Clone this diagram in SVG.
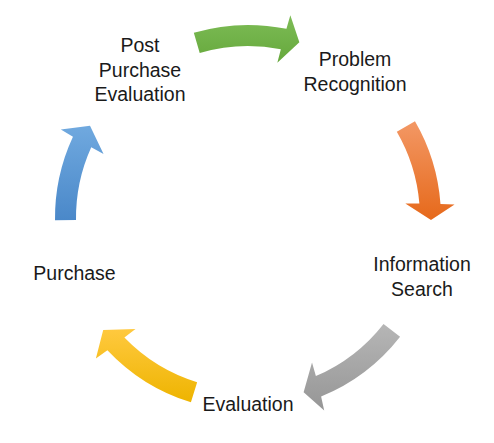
<svg xmlns="http://www.w3.org/2000/svg" width="494" height="443" viewBox="0 0 494 443">
<style>
  .lbl { font-family: "Liberation Sans", Arial, sans-serif; font-size: 19.5px; fill: #1a1a1a; text-anchor: middle; }
</style>
<defs>
  <linearGradient id="gGreen" x1="0" y1="0" x2="0" y2="1"><stop offset="0" stop-color="#7DBC56"/><stop offset="1" stop-color="#66A83C"/></linearGradient>
  <linearGradient id="gOrange" x1="0" y1="0" x2="0" y2="1"><stop offset="0" stop-color="#F39865"/><stop offset="1" stop-color="#E6691B"/></linearGradient>
  <linearGradient id="gGray" x1="0" y1="0" x2="0" y2="1"><stop offset="0" stop-color="#B6B6B6"/><stop offset="1" stop-color="#969696"/></linearGradient>
  <linearGradient id="gYellow" x1="0" y1="0" x2="0" y2="1"><stop offset="0" stop-color="#FFC93F"/><stop offset="1" stop-color="#EEB400"/></linearGradient>
  <linearGradient id="gBlue" x1="0" y1="0" x2="0" y2="1"><stop offset="0" stop-color="#70A9DF"/><stop offset="1" stop-color="#4A88C9"/></linearGradient>
</defs>
<rect width="494" height="443" fill="#ffffff"/>
<g id="connectors">
  <path id="arrow-green" fill="url(#gGreen)" d="M193.82,32.76 A193,193 0 0 1 286.45,28.86 L290.33,15.37 L299.37,42.36 L277.34,62.73 L280.85,49.16 A172,172 0 0 0 199.72,52.91 Z"/>
  <path id="arrow-orange" fill="url(#gOrange)" d="M414.98,121.21 A193,193 0 0 1 440.48,203.89 L454.56,204.46 L430.99,219.92 L405.32,203.41 L419.38,203.44 A172,172 0 0 0 396.81,131.74 Z"/>
  <path id="arrow-gray" fill="url(#gGray)" d="M400.08,336.83 A193,193 0 0 1 321.11,396.62 L324.20,410.47 L303.63,392.34 L312.01,362.46 L315.87,376.05 A172,172 0 0 0 383.54,323.90 Z"/>
  <path id="arrow-yellow" fill="url(#gYellow)" d="M190.93,402.37 A193,193 0 0 1 107.40,350.22 L95.88,358.39 L103.21,329.90 L135.50,328.95 L124.40,337.61 A172,172 0 0 0 197.14,382.31 Z"/>
  <path id="arrow-blue" fill="url(#gBlue)" d="M55.01,220.36 A193,193 0 0 1 72.95,136.75 L60.85,129.53 L90.00,125.68 L103.54,153.99 L91.24,147.22 A172,172 0 0 0 76.01,220.10 Z"/>
</g>
<g id="node-problem-recognition">
  <text class="lbl" x="355" y="66">Problem</text>
  <text class="lbl" x="355" y="90.5">Recognition</text>
</g>
<g id="node-information-search">
  <text class="lbl" x="422" y="271">Information</text>
  <text class="lbl" x="422" y="295.5">Search</text>
</g>
<g id="node-evaluation">
  <text class="lbl" x="248" y="410.5">Evaluation</text>
</g>
<g id="node-purchase">
  <text class="lbl" x="74.5" y="279.5">Purchase</text>
</g>
<g id="node-post-purchase-evaluation">
  <text class="lbl" x="140" y="52">Post</text>
  <text class="lbl" x="140" y="76.5">Purchase</text>
  <text class="lbl" x="140" y="101">Evaluation</text>
</g>
</svg>
